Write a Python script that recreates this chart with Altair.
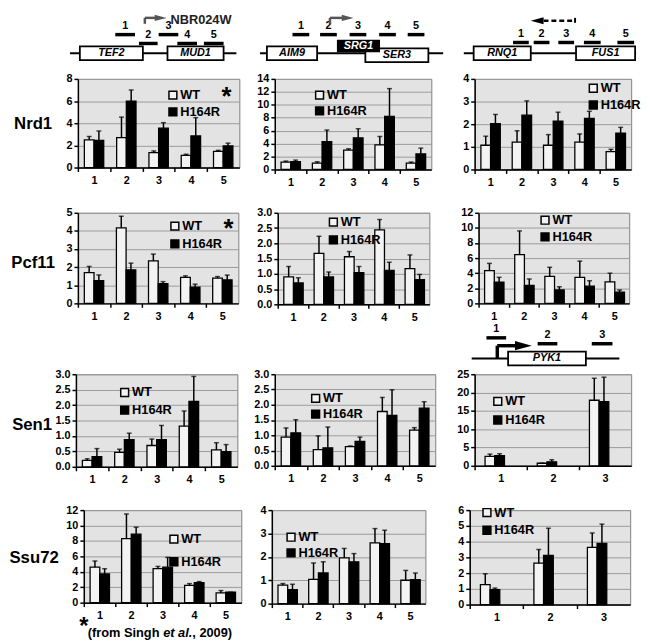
import altair as alt
import pandas as pd

FONT = "Liberation Sans"
SERIES = ["WT", "H164R"]
WT_FILL = "#f3f3f3"
BG = "#e3e3e3"
GRID = "#9a9a9a"
FRAME = "#808080"

# ---------------- data: mean and upper error per amplicon ----------------
POS5 = ["1", "2", "3", "4", "5"]
POS3 = ["1", "2", "3"]

NRD1_TEF2_WT = [2.5, 2.7, 1.35, 1.1, 1.45]
NRD1_TEF2_WT_ERR = [0.3, 1.85, 0.15, 0.1, 0.1]
NRD1_TEF2_H = [2.45, 6.0, 3.55, 2.85, 1.95]
NRD1_TEF2_H_ERR = [0.85, 1.0, 0.5, 1.65, 0.25]

NRD1_SRG1_WT = [1.15, 1.0, 3.0, 3.8, 1.0]
NRD1_SRG1_WT_ERR = [0.15, 0.2, 0.2, 1.3, 0.15]
NRD1_SRG1_H = [1.2, 4.3, 4.9, 8.2, 2.4]
NRD1_SRG1_H_ERR = [0.25, 1.8, 1.4, 4.3, 0.9]

NRD1_FUS1_WT = [1.07, 1.21, 1.07, 1.21, 0.79]
NRD1_FUS1_WT_ERR = [0.4, 0.5, 0.47, 0.36, 0.1]
NRD1_FUS1_H = [2.03, 2.4, 2.14, 2.26, 1.61]
NRD1_FUS1_H_ERR = [0.4, 0.63, 0.39, 0.31, 0.25]

PCF11_TEF2_WT = [1.7, 4.17, 2.35, 1.44, 1.39]
PCF11_TEF2_WT_ERR = [0.34, 0.64, 0.37, 0.08, 0.09]
PCF11_TEF2_H = [1.26, 1.85, 1.09, 0.89, 1.3]
PCF11_TEF2_H_ERR = [0.31, 0.37, 0.11, 0.17, 0.26]

PCF11_SRG1_WT = [0.9, 1.67, 1.56, 2.44, 1.17]
PCF11_SRG1_WT_ERR = [0.34, 0.56, 0.17, 0.34, 0.45]
PCF11_SRG1_H = [0.7, 0.9, 1.04, 1.11, 0.81]
PCF11_SRG1_H_ERR = [0.17, 0.16, 0.2, 0.27, 0.17]

PCF11_FUS1_WT = [4.35, 6.47, 3.58, 3.45, 2.84]
PCF11_FUS1_WT_ERR = [0.95, 3.13, 1.2, 2.15, 1.16]
PCF11_FUS1_H = [2.8, 2.37, 1.77, 2.28, 1.5]
PCF11_FUS1_H_ERR = [0.65, 0.86, 0.43, 0.72, 0.27]

SEN1_TEF2_WT = [0.21, 0.47, 0.69, 1.32, 0.55]
SEN1_TEF2_WT_ERR = [0.05, 0.1, 0.21, 0.49, 0.23]
SEN1_TEF2_H = [0.33, 0.88, 0.88, 2.12, 0.49]
SEN1_TEF2_H_ERR = [0.26, 0.21, 0.46, 0.81, 0.23]

SEN1_SRG1_WT = [0.94, 0.53, 0.63, 1.78, 1.17]
SEN1_SRG1_WT_ERR = [0.3, 0.45, 0.02, 0.46, 0.08]
SEN1_SRG1_H = [1.08, 0.59, 0.8, 1.65, 1.89]
SEN1_SRG1_H_ERR = [0.43, 0.68, 0.14, 0.84, 0.21]

SEN1_PYK1_WT = [2.57, 0.7, 17.9]
SEN1_PYK1_WT_ERR = [0.63, 0.05, 6.0]
SEN1_PYK1_H = [2.76, 1.1, 17.5]
SEN1_PYK1_H_ERR = [0.54, 0.55, 6.7]

SSU72_TEF2_WT = [4.6, 8.3, 4.4, 2.24, 1.26]
SSU72_TEF2_WT_ERR = [0.8, 3.2, 0.3, 0.23, 0.31]
SSU72_TEF2_H = [3.72, 8.88, 4.6, 2.6, 1.35]
SSU72_TEF2_H_ERR = [0.68, 0.9, 1.27, 0.13, 0.0]

SSU72_SRG1_WT = [0.79, 1.04, 1.96, 2.6, 1.0]
SSU72_SRG1_WT_ERR = [0.07, 0.7, 0.4, 0.61, 0.42]
SSU72_SRG1_H = [0.6, 1.31, 1.79, 2.57, 1.03]
SSU72_SRG1_H_ERR = [0.23, 0.48, 0.35, 0.57, 0.28]

SSU72_PYK1_WT = [1.27, 2.63, 3.64]
SSU72_PYK1_WT_ERR = [0.69, 0.87, 0.91]
SSU72_PYK1_H = [0.95, 3.13, 3.88]
SSU72_PYK1_H_ERR = [0.1, 1.72, 1.23]

TICKS_0_8 = [0, 2, 4, 6, 8]
TICKS_0_14 = [0, 2, 4, 6, 8, 10, 12, 14]
TICKS_0_4 = [0, 1, 2, 3, 4]
TICKS_0_5 = [0, 1, 2, 3, 4, 5]
TICKS_0_3 = [0, 0.5, 1.0, 1.5, 2.0, 2.5, 3.0]
TICKS_0_12 = [0, 2, 4, 6, 8, 10, 12]
TICKS_0_25 = [0, 5, 10, 15, 20, 25]
TICKS_0_6 = [0, 1, 2, 3, 4, 5, 6]

# ---------------- schematic gene maps (page-pixel layout) ----------------
RIGHT_HEAD = "M-1,-0.55L1,0L-1,0.55Z"
LEFT_HEAD = "M1,-0.55L-1,0L1,0.55Z"

MAP1_LINE = dict(x1=[69], x2=[238], y=[49])
MAP1_GENES = dict(name=["TEF2", "MUD1"], x1=[79, 168], x2=[143, 225],
                  y1=[42, 42], y2=[56, 56], fill=["white", "white"], tc=["black", "black"])
MAP1_AMPS = dict(label=POS5, x1=[115, 139, 159, 178, 205], x2=[135, 158, 179, 198, 225],
                 y=[30, 39, 30, 39, 39])
MAP1_SEGS = dict(x1=[145, 145], x2=[145, 156], y1=[19, 13], y2=[13, 13],
                 c=["#555555", "#555555"], w=[2.5, 2.5])
MAP1_HEADS = dict(x=[161], y=[13], shape=[RIGHT_HEAD], size=[144], c=["#555555"])

MAP2_LINE = dict(x1=[262], x2=[448], y=[49])
MAP2_GENES = dict(name=["AIM9", "SER3", "SRG1"], x1=[269, 369, 341], x2=[320, 433, 383],
                  y1=[42, 44, 36], y2=[56, 58, 47], fill=["white", "white", "black"],
                  tc=["black", "black", "white"])
MAP2_AMPS = dict(label=POS5, x1=[295, 323, 353, 383, 412], x2=[312, 340, 370, 400, 429],
                 y=[30, 30, 30, 30, 30])
MAP2_SEGS = dict(x1=[333, 333], x2=[333, 346], y1=[19, 13], y2=[13, 13],
                 c=["#555555", "#555555"], w=[2.5, 2.5])
MAP2_HEADS = dict(x=[351], y=[13], shape=[RIGHT_HEAD], size=[144], c=["#555555"])

MAP3_LINE = dict(x1=[469], x2=[644], y=[49])
MAP3_GENES = dict(name=["RNQ1", "FUS1"], x1=[479, 583], x2=[537, 643],
                  y1=[42, 42], y2=[56, 56], fill=["white", "white"], tc=["black", "black"])
MAP3_AMPS = dict(label=POS5, x1=[519, 540, 565, 591, 625], x2=[535, 556, 581, 608, 642],
                 y=[38, 38, 38, 38, 38])
MAP3_SEGS = dict(x1=[582], x2=[582], y1=[13], y2=[18], c=["black"], w=[2])
MAP3_DASH = dict(x1=[550], x2=[580], y=[16])
MAP3_HEADS = dict(x=[543.5], y=[16], shape=[LEFT_HEAD], size=[169], c=["black"])

PYK_LINE = dict(x1=[477], x2=[627], y=[358])
PYK_GENES = dict(name=["PYK1"], x1=[514], x2=[593], y1=[351], y2=[365],
                 fill=["white"], tc=["black"])
PYK_AMPS = dict(label=POS3, x1=[492, 544, 599], x2=[512, 564, 620], y=[337, 343, 343])
PYK_SEGS = dict(x1=[503, 503], x2=[503, 522], y1=[358, 345], y2=[345, 345],
                c=["black", "black"], w=[3.5, 3.5])
PYK_HEADS = dict(x=[529.5], y=[345], shape=[RIGHT_HEAD], size=[289], c=["black"])


def block(w, top, bottom):
    """Invisible spacer whose extent fixes the row's vertical band."""
    return alt.Chart(pd.DataFrame({"v": [0]})).mark_rect(opacity=0).encode(
        x=alt.value(0), x2=alt.value(w), y=alt.value(top), y2=alt.value(bottom)
    ).properties(width=w, height=10)


def spacer(w):
    return alt.Chart(pd.DataFrame({"v": pd.Series([], dtype=float)})).mark_point(
        opacity=0).encode(x=alt.value(0), y=alt.value(0)).properties(width=w, height=10)


def panel(pos, wt, wt_err, h, h_err, yticks, yfmt, width, height, leg,
          star=None, row_label=None, notes=None):
    n = len(pos)
    df = pd.DataFrame({
        "pos": pos + pos,
        "series": [SERIES[0]] * n + [SERIES[1]] * n,
        "value": wt + h,
        "err": wt_err + h_err,
    })
    step = width / n
    ykw = dict(values=yticks, format=yfmt, grid=True, gridColor=GRID, gridWidth=1,
               domainColor="black", domainWidth=1.5, tickColor="black", tickSize=4,
               tickWidth=1.5, labelFontSize=11, labelFontWeight="bold",
               labelColor="black", labelPadding=2)
    if row_label:
        lab, tx, ty = row_label
        yaxis = alt.Axis(title=lab, titleAngle=0, titleAlign="center",
                         titleBaseline="middle", titleX=tx, titleY=ty,
                         titleFontSize=17, titleFontWeight="bold",
                         titleColor="black", **ykw)
    else:
        yaxis = alt.Axis(title=None, **ykw)
    xaxis = alt.Axis(title=None, labelAngle=0, domainColor="black", domainWidth=1.5,
                     tickColor="black", tickSize=4, tickWidth=1.5,
                     tickOffset=-step / 2, labelOffset=step / 2,
                     labelFontSize=11, labelFontWeight="bold", labelColor="black",
                     labelPadding=3, grid=False)
    yscale = alt.Scale(domain=[0, yticks[-1]], nice=False)
    x = alt.X("pos:N", sort=pos, scale=alt.Scale(paddingInner=0.4, paddingOuter=0.2),
              axis=xaxis)
    xo = alt.XOffset("series:N", sort=SERIES)
    base = alt.Chart(df).transform_calculate(top="datum.value + datum.err")
    lx, ly, rp = leg
    bars = base.mark_bar(stroke="black", strokeWidth=1.3).encode(
        x=x, xOffset=xo,
        y=alt.Y("value:Q", scale=yscale, axis=yaxis),
        fill=alt.Fill("series:N", sort=SERIES,
                      scale=alt.Scale(domain=SERIES, range=[WT_FILL, "black"]),
                      legend=alt.Legend(orient="none", legendX=lx, legendY=ly,
                                        title=None, padding=0, symbolType="square",
                                        symbolSize=64, symbolStrokeColor="black",
                                        symbolStrokeWidth=1.5, labelFontSize=13,
                                        labelFontWeight="bold", labelColor="black",
                                        labelOffset=1, rowPadding=rp)),
    )
    rule = base.mark_rule(color="black", strokeWidth=1.5).encode(
        x=x, xOffset=xo,
        y=alt.Y("value:Q", scale=yscale, axis=yaxis), y2="top:Q",
    )
    cap = base.mark_tick(color="black", thickness=1.5, size=5).encode(
        x=x, xOffset=xo, y=alt.Y("top:Q", scale=yscale, axis=yaxis),
    )
    layers = [bars, rule, cap]
    if star:
        sx, sy = star
        layers.append(
            alt.Chart(pd.DataFrame({"t": ["*"]})).mark_text(
                fontSize=26, fontWeight="bold", color="black", align="center",
                baseline="middle").encode(text="t:N", x=alt.value(sx), y=alt.value(sy + 5))
        )
    for note in notes or []:
        t, nx, ny, size, style, align = note
        layers.append(
            alt.Chart(pd.DataFrame({"t": [t]})).mark_text(
                fontSize=size, fontWeight="bold", fontStyle=style, color="black",
                align=align, baseline="middle").encode(
                text="t:N", x=alt.value(nx), y=alt.value(ny))
        )
    return alt.layer(*layers).properties(
        width=width, height=height,
        view=alt.ViewBackground(fill=BG, stroke=FRAME, strokeWidth=1),
    )


def text_layer(xs, ys, t, x, y, size, weight="bold", style="normal", color="black",
               align="left", baseline="middle"):
    return alt.Chart(pd.DataFrame({"t": [t], "x": [x], "y": [y]})).mark_text(
        fontSize=size, fontWeight=weight, fontStyle=style, color=color,
        align=align, baseline=baseline,
    ).encode(x=alt.X("x:Q", scale=xs, axis=None),
             y=alt.Y("y:Q", scale=ys, axis=None), text="t:N")


def schematic(xs, ys, lines, genes, amps, segs, heads, dashes=None):
    X = lambda f: alt.X(f, type="quantitative", scale=xs, axis=None)
    Y = lambda f: alt.Y(f, type="quantitative", scale=ys, axis=None)
    layers = [alt.Chart(pd.DataFrame(lines)).mark_rule(color="black", strokeWidth=2)
              .encode(x=X("x1"), x2="x2:Q", y=Y("y"))]
    if dashes:
        layers.append(alt.Chart(pd.DataFrame(dashes)).mark_rule(
            color="black", strokeWidth=2.5, strokeDash=[5, 3])
            .encode(x=X("x1"), x2="x2:Q", y=Y("y")))
    gdf = pd.DataFrame(genes)
    layers.append(alt.Chart(gdf).mark_rect(stroke="black", strokeWidth=1.8).encode(
        x=X("x1"), x2="x2:Q", y=Y("y1"), y2="y2:Q",
        fill=alt.Fill("fill:N", scale=None)))
    layers.append(alt.Chart(gdf).transform_calculate(
        cx="(datum.x1 + datum.x2) / 2", cy="(datum.y1 + datum.y2) / 2"
    ).mark_text(fontStyle="italic", fontWeight="bold", fontSize=11).encode(
        x=X("cx"), y=Y("cy"), text="name:N", color=alt.Color("tc:N", scale=None)))
    adf = pd.DataFrame(amps)
    layers.append(alt.Chart(adf).mark_rule(color="black", strokeWidth=3.5).encode(
        x=X("x1"), x2="x2:Q", y=Y("y")))
    layers.append(alt.Chart(adf).transform_calculate(
        cx="(datum.x1 + datum.x2) / 2", ly="datum.y - 9"
    ).mark_text(fontWeight="bold", fontSize=11, color="black").encode(
        x=X("cx"), y=Y("ly"), text="label:N"))
    layers.append(alt.Chart(pd.DataFrame(segs)).mark_rule().encode(
        x=X("x1"), x2="x2:Q", y=Y("y1"), y2="y2:Q",
        color=alt.Color("c:N", scale=None),
        strokeWidth=alt.StrokeWidth("w:Q", scale=None)))
    layers.append(alt.Chart(pd.DataFrame(heads)).mark_point(
        filled=True, opacity=1, strokeWidth=0).encode(
        x=X("x"), y=Y("y"), shape=alt.Shape("shape:N", scale=None),
        size=alt.Size("size:Q", scale=None), color=alt.Color("c:N", scale=None)))
    return layers


YS_TOP = alt.Scale(domain=[8, 65], reverse=True)
XS1 = alt.Scale(domain=[77, 241])
XS2 = alt.Scale(domain=[277, 436])
XS3 = alt.Scale(domain=[480, 639])

m1 = schematic(XS1, YS_TOP, MAP1_LINE, MAP1_GENES, MAP1_AMPS, MAP1_SEGS, MAP1_HEADS)
m1.append(text_layer(XS1, YS_TOP, "NBR024W", 171, 15, 13, color="#222222"))
map1 = alt.layer(*m1).properties(width=164, height=57)
map2 = alt.layer(*schematic(XS2, YS_TOP, MAP2_LINE, MAP2_GENES, MAP2_AMPS, MAP2_SEGS,
                            MAP2_HEADS)).properties(width=159, height=57)
map3 = alt.layer(*schematic(XS3, YS_TOP, MAP3_LINE, MAP3_GENES, MAP3_AMPS, MAP3_SEGS,
                            MAP3_HEADS, dashes=MAP3_DASH)).properties(width=159, height=57)

YS_PYK = alt.Scale(domain=[323, 366], reverse=True)
pyk = alt.layer(*schematic(XS3, YS_PYK, PYK_LINE, PYK_GENES, PYK_AMPS, PYK_SEGS,
                           PYK_HEADS)).properties(width=159, height=43)

# ---------------- bar panels ----------------
p11 = panel(POS5, NRD1_TEF2_WT, NRD1_TEF2_WT_ERR, NRD1_TEF2_H, NRD1_TEF2_H_ERR,
            TICKS_0_8, "d", 164, 90, (90, 10, 2), star=(151, 13),
            row_label=("Nrd1", -46, 45))
p12 = panel(POS5, NRD1_SRG1_WT, NRD1_SRG1_WT_ERR, NRD1_SRG1_H, NRD1_SRG1_H_ERR,
            TICKS_0_14, "d", 159, 92, (39, 10, 1))
p13 = panel(POS5, NRD1_FUS1_WT, NRD1_FUS1_WT_ERR, NRD1_FUS1_H, NRD1_FUS1_H_ERR,
            TICKS_0_4, "d", 159, 92, (114, 3, 2))

p21 = panel(POS5, PCF11_TEF2_WT, PCF11_TEF2_WT_ERR, PCF11_TEF2_H, PCF11_TEF2_H_ERR,
            TICKS_0_5, "d", 163, 92, (92, 7, 3), star=(153, 12),
            row_label=("Pcf11", -46, 51))
p22 = panel(POS5, PCF11_SRG1_WT, PCF11_SRG1_WT_ERR, PCF11_SRG1_H, PCF11_SRG1_H_ERR,
            TICKS_0_3, ".1f", 154, 93, (50, 3, 3))
p23 = panel(POS5, PCF11_FUS1_WT, PCF11_FUS1_WT_ERR, PCF11_FUS1_H, PCF11_FUS1_H_ERR,
            TICKS_0_12, "d", 153, 92, (61, 1, 2))

p31 = panel(POS5, SEN1_TEF2_WT, SEN1_TEF2_WT_ERR, SEN1_TEF2_H, SEN1_TEF2_H_ERR,
            TICKS_0_3, ".1f", 164, 94, (43, 12, 3), row_label=("Sen1", -45, 51))
p32 = panel(POS5, SEN1_SRG1_WT, SEN1_SRG1_WT_ERR, SEN1_SRG1_H, SEN1_SRG1_H_ERR,
            TICKS_0_3, ".1f", 163, 93, (35, 18, 1))
p33 = panel(POS3, SEN1_PYK1_WT, SEN1_PYK1_WT_ERR, SEN1_PYK1_H, SEN1_PYK1_H_ERR,
            TICKS_0_25, "d", 159, 93, (17, 21, 4))

FOOTNOTE = [
    ("*", 0, 119, 24, "normal", "center"),
    ("(from Singh ", 4, 125, 13, "normal", "left"),
    ("et al.", 80.6, 125, 13, "italic", "left"),
    (", 2009)", 110.2, 125, 13, "normal", "left"),
]
p41 = panel(POS5, SSU72_TEF2_WT, SSU72_TEF2_WT_ERR, SSU72_TEF2_H, SSU72_TEF2_H_ERR,
            TICKS_0_12, "d", 160, 94, (85, 23, 8), row_label=("Ssu72", -51, 48),
            notes=FOOTNOTE)
p42 = panel(POS5, SSU72_SRG1_WT, SSU72_SRG1_WT_ERR, SSU72_SRG1_H, SSU72_SRG1_H_ERR,
            TICKS_0_4, "d", 156, 95, (13, 21, 1))
p43 = panel(POS3, SSU72_PYK1_WT, SSU72_PYK1_WT_ERR, SSU72_PYK1_H, SSU72_PYK1_H_ERR,
            TICKS_0_6, "d", 163, 96, (11, -4, 3))


def row(*items):
    return alt.hconcat(*items, spacing=0, bounds="flush").resolve_scale(
        fill="independent", x="independent", y="independent"
    ).resolve_legend(fill="independent")


# each row: left block fixes the row's vertical band (relative to its plot top)
row0 = row(block(69, 0, 57), map1, spacer(36), map2, spacer(44), map3)
row1 = row(block(69, -10, 125), p11, spacer(36), p12, spacer(44), p13)
row2 = row(block(69, -11, 112), p21, spacer(40), p22, spacer(50), p23)
rowp = row(block(472, 0, 43), pyk)
row3 = row(block(67, -8, 128), p31, spacer(38), p32, spacer(40), p33)
row4 = row(block(75, -10, 132), p41, spacer(31), p42, spacer(45), p43)

chart = alt.vconcat(
    row0, row1, row2, rowp, row3, row4, spacing=0,
).resolve_scale(
    fill="independent", x="independent", y="independent"
).resolve_legend(fill="independent").properties(
    padding=0, background="white"
).configure_view(stroke=None).configure_axis(
    labelFont=FONT, titleFont=FONT
).configure_legend(labelFont=FONT).configure_text(font=FONT)

chart.save("out.html", embed_options={"renderer": "svg", "actions": False})
